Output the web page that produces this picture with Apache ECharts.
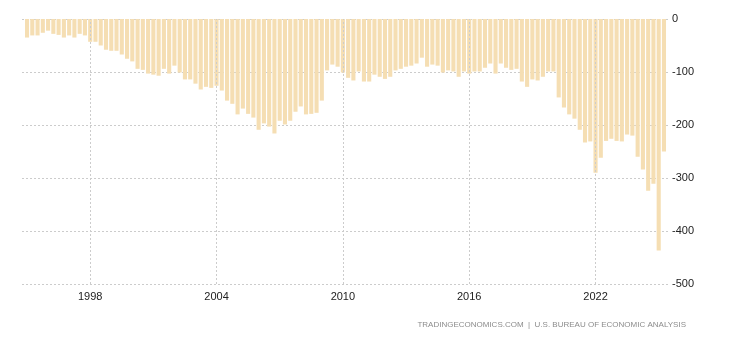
<!DOCTYPE html>
<html>
<head>
<meta charset="utf-8">
<script src="https://cdn.jsdelivr.net/npm/echarts@6/dist/echarts.min.js"></script>
<style>html,body{margin:0;padding:0;background:#fff;}#c{width:730px;height:340px;}</style>
</head>
<body>
<div id="c"></div>
<script>
// Quarterly values (USD billions), 1995 Q1 .. 2025 Q2
var startYear = 1995;
var values = [
  -35,-31,-31,-26,-22,-28,-30,-35,-31,-35,-28,-31,-43,-43,-50,-58,-60,-60,-67,-75,-80,
  -94,-96,-103,-105,-107,-94,-103,-88,-101,-114,-114,-122,-133,-128,-130,-126,-135,-154,-160,-180,
  -169,-179,-186,-209,-197,-203,-216,-192,-199,-192,-175,-165,-180,-179,-177,-154,-97,-86,-90,-101,
  -111,-116,-99,-118,-118,-105,-109,-113,-109,-97,-94,-90,-88,-84,-73,-90,-86,-88,-101,-97,-99,
  -109,-99,-103,-99,-99,-92,-84,-103,-84,-92,-96,-94,-118,-128,-114,-116,-109,-99,-99,-148,
  -167,-180,-188,-209,-233,-231,-290,-262,-230,-226,-230,-231,-218,-220,-260,-284,-324,-311,-437,-250
];
var tickYears = ['1998','2004','2010','2016','2022'];
var yTicks = [0,-100,-200,-300,-400,-500];
var sourceText = 'TRADINGECONOMICS.COM  |  U.S. BUREAU OF ECONOMIC ANALYSIS';

var categories = [];
for (var i = 0; i < values.length; i++) {
  var y = startYear + Math.floor(i / 4);
  categories.push(y + 'Q' + (i % 4 + 1));
}
function isTick(idx) {
  var c = categories[idx];
  return c.slice(4) === 'Q1' && tickYears.indexOf(c.slice(0,4)) >= 0;
}
var vLines = tickYears.map(function(y){ return {xAxis: y + 'Q1'}; });

var chart = echarts.init(document.getElementById('c'), null, {renderer:'canvas'});
chart.setOption({
  animation: false,
  backgroundColor: '#ffffff',
  grid: [
    {left: 22, right: 60, top: 19, height: 265},
    {left: 24.4, right: 63.4, top: 19, height: 265}
  ],
  xAxis: [
    {gridIndex: 0, type: 'value', show: false, min: 0, max: 1},
    {gridIndex: 1, type: 'category', data: categories,
      axisLine: {show: false},
      axisTick: {show: false},
      splitLine: {show: false},
      axisLabel: {interval: function(i){return isTick(i);}, margin: 7,
        formatter: function(v){return v.slice(0,4);},
        color: '#222222', fontSize: 11, fontFamily: 'Liberation Sans, Arial, sans-serif'}
    }
  ],
  yAxis: [
    {gridIndex: 0, type: 'value', position: 'right', min: -500, max: 0, interval: 100,
      axisLine: {show: false}, axisTick: {show: false},
      splitLine: {show: true, lineStyle: {color: '#cccccc', type: [2,2], width: 1}},
      axisLabel: {margin: 2, color: '#222222', fontSize: 11, fontFamily: 'Liberation Sans, Arial, sans-serif',
        formatter: function(v){ return yTicks.indexOf(v) >= 0 ? String(v) : ''; }}
    },
    {gridIndex: 1, type: 'value', min: -500, max: 0, interval: 100, show: false, splitLine: {show: false}}
  ],
  series: [
    {
      type: 'line', xAxisIndex: 1, yAxisIndex: 1, data: [], z: 0, silent: true,
      markLine: {
        silent: true, symbol: 'none', animation: false,
        label: {show: false},
        lineStyle: {color: '#cccccc', type: [2,2], width: 1},
        data: vLines
      }
    },
    {
      type: 'bar', xAxisIndex: 1, yAxisIndex: 1, data: values, z: 3,
      barCategoryGap: '22%',
      itemStyle: {color: '#F5DEB3'}
    }
  ],
  graphic: [{
    type: 'text', right: 44, top: 321,
    style: {text: sourceText, fill: '#8c8c8c', font: '8px "Liberation Sans", Arial, sans-serif'}
  }]
});
</script>
</body>
</html>
